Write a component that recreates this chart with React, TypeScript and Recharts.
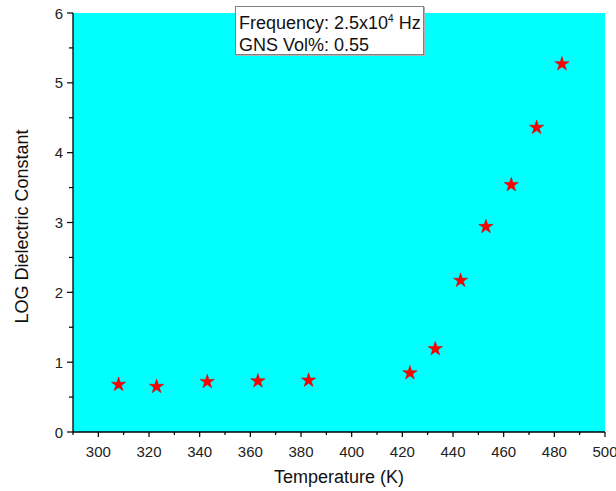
import React from 'react';
import { ScatterChart, Scatter, XAxis, YAxis, ZAxis, CartesianGrid } from 'recharts';

const temperatures = [308, 323, 343, 363, 383, 423, 433, 443, 453, 463, 473, 483];
const logDielectric = [0.68, 0.65, 0.72, 0.73, 0.74, 0.845, 1.19, 2.17, 2.94, 3.54, 4.36, 5.27];
const xTicks = [290, 300, 310, 320, 330, 340, 350, 360, 370, 380, 390, 400, 410, 420, 430, 440, 450, 460, 470, 480, 490, 500];
const yTicks = [0, 0.5, 1, 1.5, 2, 2.5, 3, 3.5, 4, 4.5, 5, 5.5, 6];
const legendLines = ['Frequency: 2.5x10', '4', ' Hz', 'GNS Vol%: 0.55'];

const data = temperatures.map((t, i) => ({ t, v: logDielectric[i] }));

const FONT = 'Arial, "Liberation Sans", Helvetica, sans-serif';

const XTick = (props: any) => {
  const { x, y, payload } = props;
  const v = payload.value;
  const major = v % 20 === 0;
  return (
    <g>
      <line x1={x} x2={x} y1={y} y2={y + (major ? 5 : 3)} stroke="#000" strokeWidth={1.2} />
      {major && (
        <text x={x} y={y + 25} textAnchor="middle" fontSize={15} fontFamily={FONT} fill="#222">
          {v}
        </text>
      )}
    </g>
  );
};

const YTick = (props: any) => {
  const { x, y, payload } = props;
  const v = payload.value;
  const major = Number.isInteger(v);
  return (
    <g>
      <line x1={x - (major ? 6 : 4)} x2={x} y1={y} y2={y} stroke="#000" strokeWidth={1.2} />
      {major && (
        <text x={x - 10} y={y + 5.5} textAnchor="end" fontSize={15} fontFamily={FONT} fill="#222">
          {v}
        </text>
      )}
    </g>
  );
};

export default function App() {
  return (
    <div style={{ position: 'absolute', left: 0, top: 0, width: 616, height: 491, background: '#fff' }}>
      <ScatterChart width={616} height={491} margin={{ top: 13, right: 11, bottom: 0, left: 0 }}>
        <CartesianGrid fill="#00FFFF" horizontal={false} vertical={false} stroke="none" />
        <XAxis
          type="number"
          dataKey="t"
          domain={[290, 500]}
          ticks={xTicks}
          interval={0}
          height={59}
          tickSize={0}
          tickMargin={0}
          tickLine={false}
          tick={<XTick />}
          axisLine={{ stroke: '#000', strokeWidth: 1.3 }}
          allowDataOverflow
          label={{
            value: 'Temperature (K)',
            position: 'insideBottom',
            offset: 8,
            style: { fontSize: 18, fontFamily: FONT, fill: '#111' },
          }}
        />
        <YAxis
          type="number"
          dataKey="v"
          domain={[0, 6]}
          ticks={yTicks}
          interval={0}
          width={73}
          tickSize={0}
          tickMargin={0}
          tickLine={false}
          tick={<YTick />}
          axisLine={{ stroke: '#000', strokeWidth: 1.3 }}
          allowDataOverflow
          label={{
            value: 'LOG Dielectric Constant',
            angle: -90,
            position: 'insideLeft',
            offset: 22,
            dy: 4,
            style: { fontSize: 18, fontFamily: FONT, fill: '#111', textAnchor: 'middle' },
          }}
        />
        <ZAxis range={[34, 34]} />
        <Scatter data={data} shape="star" fill="#ff0000" stroke="#d00000" strokeWidth={0.5} isAnimationActive={false} />
      </ScatterChart>
      <div
        style={{
          position: 'absolute',
          left: 235,
          top: 6,
          width: 184,
          height: 47,
          background: '#fff',
          border: '1px solid #808080',
          boxShadow: '1px 1px 0 #b0b0b0',
          fontFamily: FONT,
          fontSize: 18,
          lineHeight: '21.5px',
          color: '#111',
          paddingLeft: 3,
          boxSizing: 'content-box',
          whiteSpace: 'nowrap',
        }}
      >
        <div style={{ paddingTop: 1 }}>
          {legendLines[0]}
          <span style={{ fontSize: 10, verticalAlign: 7 }}>{legendLines[1]}</span>
          {legendLines[2]}
        </div>
        <div>{legendLines[3]}</div>
      </div>
    </div>
  );
}
